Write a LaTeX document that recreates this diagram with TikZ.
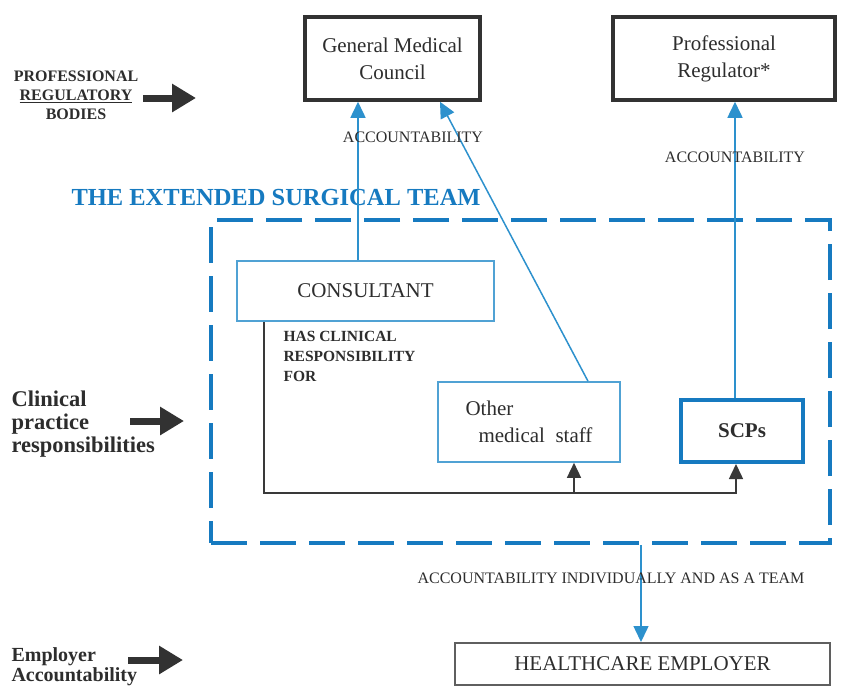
\documentclass[tikz,border=0pt]{standalone}
\usepackage{fontspec}
\setmainfont{Liberation Serif}
\usetikzlibrary{arrows.meta,calc}
\definecolor{teamblue}{RGB}{22,122,192}
\definecolor{lineblue}{RGB}{45,145,205}
\definecolor{boxblue}{RGB}{80,162,212}
\definecolor{darkbox}{RGB}{50,50,50}
\definecolor{txt}{RGB}{45,45,45}
\definecolor{greyline}{RGB}{95,95,95}
\begin{document}
\begin{tikzpicture}[x=1pt,y=-1pt,
  darkrect/.style={draw=darkbox,line width=3.5pt,rectangle,align=center,text=txt,font=\fontsize{21}{27}\selectfont},
  bluerect/.style={draw=boxblue,line width=1.6pt,rectangle,text=txt,font=\fontsize{21}{27}\selectfont},
  acc/.style={draw=lineblue,line width=1.5pt,-{Triangle[length=16pt,width=15pt]}},
  resp/.style={draw=greyline,line width=1.5pt,-{Triangle[length=15pt,width=14pt]},color=greyline!60!black},
  bigarrow/.style={draw=darkbox,line width=7pt,-{Triangle[length=24pt,width=27pt]}},
  lbl/.style={text=txt,font=\fontsize{16}{18}\selectfont},
  sidelbl/.style={text=txt,font=\bfseries\fontsize{22.5}{23}\selectfont,align=left,anchor=west}
]
\useasboundingbox (0,0) rectangle (851,689);
% top regulators
\node[darkrect,minimum width=175pt,minimum height=83pt] (gmc) at (392.5,58.5) {General Medical\\Council};
\node[darkrect,minimum width=222pt,minimum height=83pt] (pr) at (724,58.5) {Professional\\Regulator*};
% left label 1
\node[text=txt,font=\bfseries\fontsize{16}{19}\selectfont,align=center] (prb) at (76,95) {PROFESSIONAL\\\underline{REGULATORY}\\BODIES};
\coordinate (prbarrow) at (196,98);
\draw[bigarrow] (143,98) -- (prbarrow);
% team title
\node[text=teamblue,font=\bfseries\fontsize{24.5}{28}\selectfont,anchor=west] (title) at (68,198) {THE EXTENDED SURGICAL TEAM};
% dashed team box
\node[draw=teamblue,line width=4pt,dash pattern=on 36pt off 13pt,minimum width=619pt,minimum height=323pt] (team) at (520.5,381.5) {};
% inner boxes
\node[bluerect,minimum width=257pt,minimum height=60pt] (cons) at (365.5,291) {CONSULTANT};
\node[bluerect,minimum width=182pt,minimum height=80pt,align=left] (oms) at (529,422) {Other\\\hspace*{13pt}medical\ \ staff};
\node[draw=teamblue,line width=4pt,rectangle,minimum width=122pt,minimum height=62pt,text=txt,font=\bfseries\fontsize{21}{25}\selectfont] (scp) at (742,431) {SCPs};
% accountability arrows
\draw[acc] ([xshift=-7.5pt]cons.north) coordinate (c1) -- (c1 |- gmc.south);
\draw[acc] ([xshift=59pt]oms.north) -- ([xshift=47.5pt]gmc.south);
\draw[acc] ([xshift=-7pt]scp.north) coordinate (s1) -- (s1 |- pr.south);
\node[lbl] (acc1) at (413,137) {ACCOUNTABILITY};
\node[lbl] (acc2) at (735,157) {ACCOUNTABILITY};
% clinical responsibility
\coordinate (r0) at (264,493);
\draw[resp] ([xshift=-101.5pt]cons.south) -- (r0) -| ([xshift=-6pt]scp.south);
\draw[resp] ([xshift=45pt]oms.south |- r0) -- ([xshift=45pt]oms.south);
\node[text=txt,font=\bfseries\fontsize{15.5}{20}\selectfont,align=left,anchor=north west] (has) at (280,328) {HAS CLINICAL\\RESPONSIBILITY\\FOR};
% left label 2
\node[sidelbl] (cpr) at (8,424) {Clinical\\practice\\responsibilities};
\coordinate (cprarrow) at (184,421);
\draw[bigarrow] (130,421) -- (cprarrow);
% employer
\node[draw=greyline,line width=2pt,rectangle,minimum width=375pt,minimum height=42pt,text=txt,font=\fontsize{21}{25}\selectfont] (he) at (642.5,664) {HEALTHCARE EMPLOYER};
\draw[acc] (team.south -| he.north) ++(-1.5,0) coordinate (t1) -- (t1 |- he.north);
\node[lbl] (acc3) at (611,578) {ACCOUNTABILITY INDIVIDUALLY AND AS A TEAM};
\node[sidelbl,font=\bfseries\fontsize{20}{20}\selectfont] (emp) at (8,667) {Employer\\Accountability};
\draw[bigarrow] (128,660) -- (183,660);
\end{tikzpicture}
\end{document}
